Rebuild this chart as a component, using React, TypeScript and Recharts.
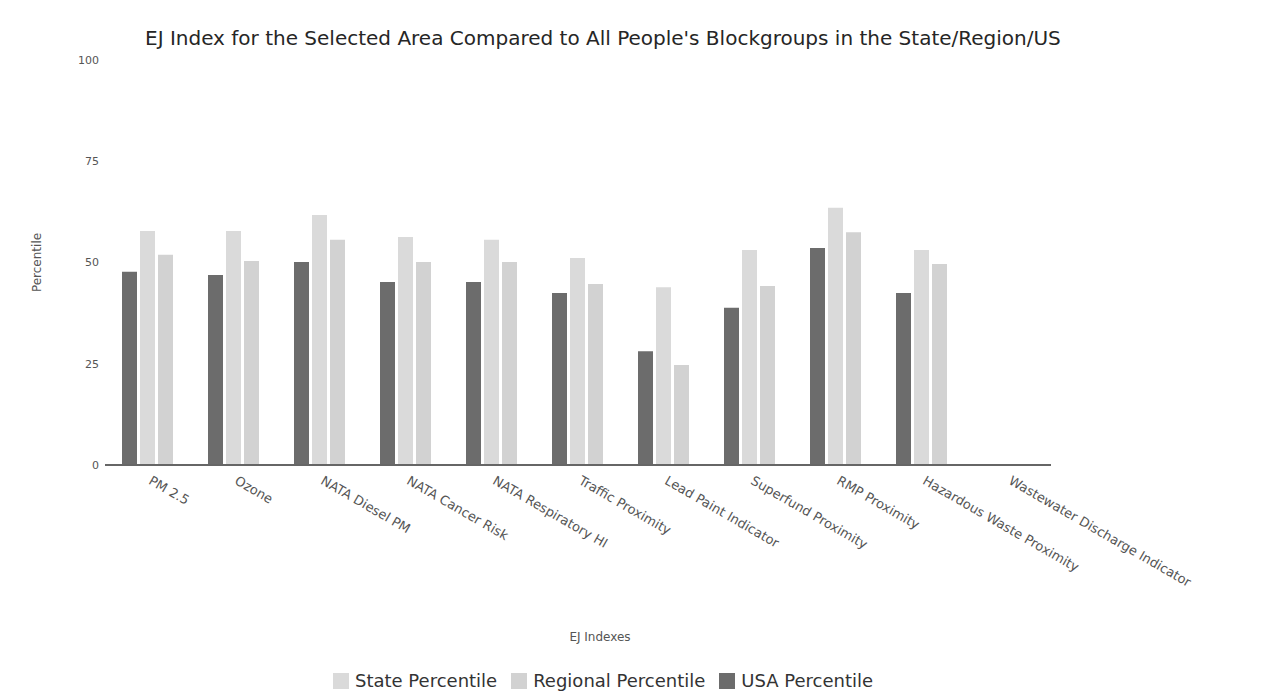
import { Bar, BarChart, Label, XAxis, YAxis } from 'recharts';

// values
const categories = [
  'PM 2.5',
  'Ozone',
  'NATA Diesel PM',
  'NATA Cancer Risk',
  'NATA Respiratory HI',
  'Traffic Proximity',
  'Lead Paint Indicator',
  'Superfund Proximity',
  'RMP Proximity',
  'Hazardous Waste Proximity',
  'Wastewater Discharge Indicator',
];
const usaPercentile = [47.7, 46.9, 50.1, 45.2, 45.2, 42.5, 28.1, 38.8, 53.6, 42.5, null];
const statePercentile = [57.8, 57.8, 61.7, 56.3, 55.6, 51.1, 43.9, 53.1, 63.5, 53.1, null];
const regionalPercentile = [51.9, 50.4, 55.6, 50.1, 50.1, 44.7, 24.7, 44.2, 57.5, 49.6, null];
const yTicks = [0, 25, 50, 75, 100];

const data = categories.map((name, i) => ({
  name,
  usa: usaPercentile[i],
  state: statePercentile[i],
  regional: regionalPercentile[i],
}));

const legendItems = [
  { label: 'State Percentile', color: '#dadada' },
  { label: 'Regional Percentile', color: '#d2d2d2' },
  { label: 'USA Percentile', color: '#6c6c6c' },
];

const FONT = '"DejaVu Sans", Verdana, sans-serif';

const AngledTick = ({ x, y, payload }: any) => (
  <g transform={`translate(${x},${y})`}>
    <text x={0} y={0} dx={5} dy={9} textAnchor="start" transform="rotate(30)" fontSize={13} fill="#555" fontFamily={FONT}>
      {payload.value}
    </text>
  </g>
);

const App = () => {
  return (
    <div style={{ position: 'relative', width: 1267, height: 686, fontFamily: FONT }}>
      <div style={{ position: 'absolute', left: 137, top: 18, fontSize: 20, lineHeight: '24px', color: '#262626', whiteSpace: 'nowrap' }}>
        EJ Index for the Selected Area Compared to All People's Blockgroups in the State/Region/US
      </div>
      <BarChart
        width={1267}
        height={678}
        data={data}
        margin={{ top: 52, right: 224, left: 17, bottom: 41 }}
        barCategoryGap={17}
        barGap={3}
      >
        <XAxis
          dataKey="name"
          interval={0}
          height={180}
          tick={<AngledTick />}
          tickLine={false}
          tickSize={0}
          tickMargin={8}
          axisLine={{ stroke: '#666', strokeWidth: 2 }}
        >
          <Label value="EJ Indexes" position="insideBottom" offset={4} dx={22} fontSize={12} fill="#555" fontFamily={FONT} />
        </XAxis>
        <YAxis
          width={80}
          domain={[0, 100]}
          ticks={yTicks}
          axisLine={false}
          tickLine={false}
          tickSize={0}
          tickMargin={6}
          tick={{ fontSize: 11, fill: '#555', fontFamily: FONT }}
        >
          <Label value="Percentile" angle={-90} position="insideLeft" offset={12} textAnchor="middle" fontSize={12} fill="#555" fontFamily={FONT} />
        </YAxis>
        <Bar dataKey="usa" name="USA Percentile" fill="#6c6c6c" isAnimationActive={false} />
        <Bar dataKey="state" name="State Percentile" fill="#dadada" isAnimationActive={false} />
        <Bar dataKey="regional" name="Regional Percentile" fill="#d2d2d2" isAnimationActive={false} />
      </BarChart>
      <div style={{ position: 'absolute', left: 325, top: 663, height: 20, display: 'flex', alignItems: 'center', fontSize: 18, lineHeight: '20px', color: '#333', whiteSpace: 'nowrap' }}>
        {legendItems.map((item) => (
          <div key={item.label} style={{ display: 'flex', alignItems: 'center', marginRight: 14 }}>
            <span style={{ display: 'inline-block', width: 16, height: 16, background: item.color, marginRight: 6 }} />
            <span>{item.label}</span>
          </div>
        ))}
      </div>
    </div>
  );
};

export default App;
